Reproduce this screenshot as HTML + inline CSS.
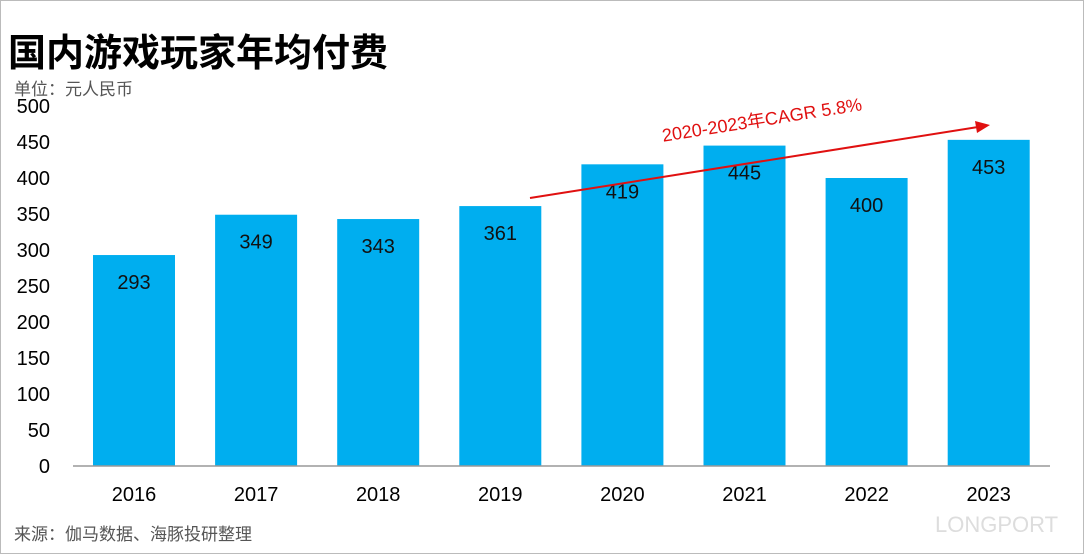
<!DOCTYPE html>
<html><head><meta charset="utf-8">
<style>
html,body{margin:0;padding:0;background:#fff;}
body{width:1084px;height:554px;overflow:hidden;font-family:"Liberation Sans","Noto Sans CJK SC",sans-serif;}
</style></head>
<body>
<svg width="1084" height="554" viewBox="0 0 1084 554" xmlns="http://www.w3.org/2000/svg">
<rect x="0.5" y="0.5" width="1083" height="553" fill="#fff" stroke="#bbb"/>
<text x="8" y="66" font-size="38" font-weight="bold" fill="#000" font-family="Liberation Sans,Noto Sans CJK SC,sans-serif">国内游戏玩家年均付费</text>
<text x="14" y="95" font-size="17" fill="#555" font-family="Liberation Sans,Noto Sans CJK SC,sans-serif">单位：元人民币</text>
<g id="yticks"></g>
<g id="bars"></g>
<line x1="73" y1="466" x2="1050" y2="466" stroke="#999" stroke-width="1.5"/>
<line x1="530" y1="198" x2="978" y2="127" stroke="#e01010" stroke-width="2"/>
<polygon points="990,125 975,121 977,133" fill="#e01010"/>
<text x="762" y="126" font-size="18" fill="#e01010" text-anchor="middle" transform="rotate(-9 762 120)" font-family="Liberation Sans,Noto Sans CJK SC,sans-serif">2020-2023年CAGR 5.8%</text>
<text x="14" y="540" font-size="17" fill="#555" font-family="Liberation Sans,Noto Sans CJK SC,sans-serif">来源：伽马数据、海豚投研整理</text>
<text x="935" y="532" font-size="22" fill="#ddd">LONGPORT</text>
</svg>
<script>
const categories=["2016","2017","2018","2019","2020","2021","2022","2023"];
const values=[293,349,343,361,419,445,400,453];
const yTicks=[0,50,100,150,200,250,300,350,400,450,500];
const NS="http://www.w3.org/2000/svg";
function y(v){return 466-v*0.72;}
function xc(i){return 134+i*122.1;}
const yg=document.getElementById('yticks');
yTicks.forEach(t=>{
  const tx=document.createElementNS(NS,'text');
  
  
  tx.setAttribute('x',50);tx.setAttribute('y',y(t)+7);
  tx.setAttribute('text-anchor','end');tx.setAttribute('font-size','20');tx.setAttribute('fill','#000');
  tx.textContent=t;yg.appendChild(tx);
});
const bg=document.getElementById('bars');
categories.forEach((c,i)=>{
  const r=document.createElementNS(NS,'rect');
  
  
  r.setAttribute('x',xc(i)-41);r.setAttribute('width',82);
  r.setAttribute('y',y(values[i]));r.setAttribute('height',466-y(values[i]));
  r.setAttribute('fill','#00aeef');bg.appendChild(r);
  const v=document.createElementNS(NS,'text');
  
  
  v.setAttribute('x',xc(i));v.setAttribute('y',y(values[i])+34);
  v.setAttribute('text-anchor','middle');v.setAttribute('font-size','20');v.setAttribute('fill','#111');
  v.textContent=values[i];bg.appendChild(v);
  const l=document.createElementNS(NS,'text');
  
  
  l.setAttribute('x',xc(i));l.setAttribute('y',501);
  l.setAttribute('text-anchor','middle');l.setAttribute('font-size','20');l.setAttribute('fill','#000');
  l.textContent=c;bg.appendChild(l);
});
</script>
</body></html>
